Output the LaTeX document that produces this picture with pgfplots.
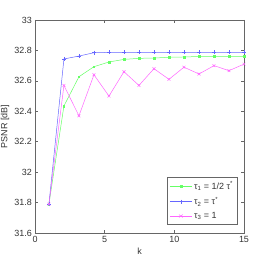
\documentclass[border=0pt]{standalone}
\usepackage{fontspec}
\setmainfont{Liberation Sans}
\usepackage{pgfplots}
\pgfplotsset{compat=1.18}
\definecolor{colG}{rgb}{0.4,1,0.4}
\definecolor{colB}{rgb}{0.4,0.4,1}
\definecolor{colM}{rgb}{1,0.4,1}
\begin{document}
\fontsize{9}{10}\selectfont
\begin{tikzpicture}
\begin{axis}[
  scale only axis, width=209bp, height=213bp,
  xmin=0, xmax=15, ymin=31.6, ymax=33,
  xtick={0,5,10,15}, ytick={31.6,31.8,...,33.01},
  yticklabel style={/pgf/number format/fixed,/pgf/number format/precision=1},
  /pgf/number format/assume math mode=true,
  tick align=inside, major tick length=3bp,
  tick style={color=black!60, line width=0.5pt},
  axis line style={color=black!60, line width=0.5pt},
  ticklabel style={font=\fontsize{9}{10}\selectfont, color=black!80},
  label style={font=\fontsize{9}{10}\selectfont, color=black!80},
  xlabel={k}, ylabel={PSNR [dB]},
  xlabel style={yshift=1bp}, ylabel style={yshift=-1bp},
  legend style={at={(0.97,0.04)}, anchor=south east, draw=black!60, font=\fontsize{9}{10}\selectfont, row sep=2pt, inner sep=2.5pt, text=black!80},
  legend cell align=left,
  legend image post style={xscale=1.3},
]
\addplot[colG, mark=square*, mark size=0.8pt, line width=0.5pt] coordinates {
(1,31.79) (2.0769,32.435) (3.1538,32.627) (4.2308,32.693) (5.3077,32.724) (6.3846,32.741) (7.4615,32.748) (8.5385,32.750) (9.6154,32.755) (10.6923,32.757) (11.7692,32.760) (12.8462,32.760) (13.9231,32.760) (15,32.760)};
\addlegendentry{τ\textsubscript{1} = 1/2 τ\textsuperscript{*}}
\addplot[colB, mark=+, mark size=2pt, line width=0.5pt] coordinates {
(1,31.79) (2.0769,32.744) (3.1538,32.763) (4.2308,32.785) (5.3077,32.787) (6.3846,32.787) (7.4615,32.787) (8.5385,32.787) (9.6154,32.787) (10.6923,32.787) (11.7692,32.787) (12.8462,32.787) (13.9231,32.787) (15,32.787)};
\addlegendentry{τ\textsubscript{2} = τ\textsuperscript{*}}
\addplot[colM, mark=x, mark size=2pt, line width=0.5pt] coordinates {
(1,31.79) (2.0769,32.57) (3.1538,32.37) (4.2308,32.64) (5.3077,32.50) (6.3846,32.66) (7.4615,32.57) (8.5385,32.68) (9.6154,32.61) (10.6923,32.69) (11.7692,32.645) (12.8462,32.70) (13.9231,32.667) (15,32.71)};
\addlegendentry{τ\textsubscript{3} = 1}
\end{axis}
\pgfresetboundingbox
\useasboundingbox ([shift={(-35bp,-30bp)}]current axis.south west) rectangle ([shift={(28bp,20bp)}]current axis.north east);
\end{tikzpicture}
\end{document}
